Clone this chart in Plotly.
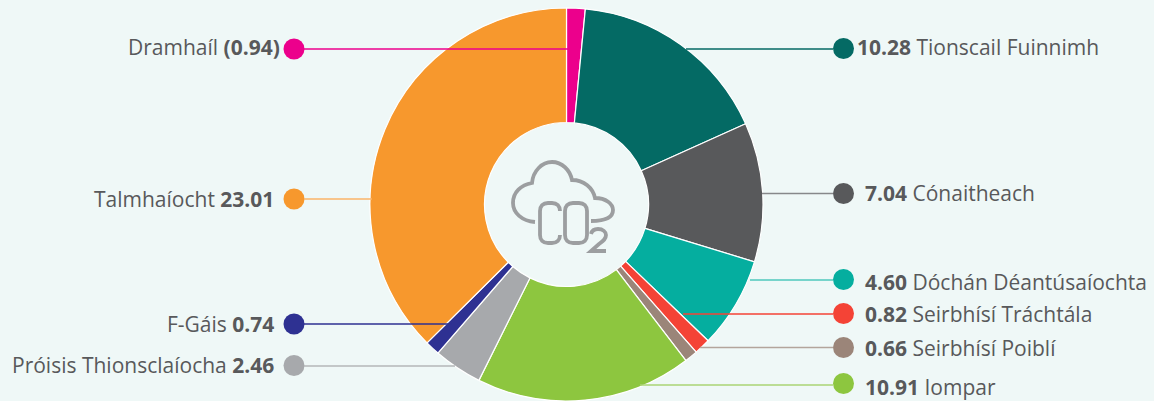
import plotly.graph_objects as go

# --- data ---
names = ["Dramhaíl", "Tionscail Fuinnimh", "Cónaitheach", "Dóchán Déantúsaíochta",
         "Seirbhísí Tráchtála", "Seirbhísí Poiblí", "Iompar",
         "Próisis Thionsclaíocha", "F-Gáis", "Talmhaíocht"]
values = [0.94, 10.28, 7.04, 4.60, 0.82, 0.66, 10.91, 2.46, 0.74, 23.01]
value_text = ["(0.94)", "10.28", "7.04", "4.60", "0.82", "0.66", "10.91", "2.46", "0.74", "23.01"]
colors = ["#EC008C", "#046A64", "#58595B", "#05AE9F", "#F44336",
          "#9B8579", "#8DC63F", "#A7A9AC", "#2E3192", "#F7982D"]
line_colors = ["#EC008C", "#046A64", "#87888A", "#4FC8BC", "#F44336",
               "#B3A59C", "#AAD574", "#B5B7B9", "#2E3192", "#FBB568"]

# --- layout positions (pixels) ---
W, H = 1154, 401
BG = "#EFF8F7"
TXT = "#58595B"
side = ["L", "R", "R", "R", "R", "R", "R", "L", "L", "L"]
dot_x = [294, 843.5, 843.5, 843.5, 843.5, 843.5, 843.5, 294, 294, 294]
dot_y = [49, 48.5, 193.5, 279.5, 313.5, 347.5, 383.5, 365.5, 324, 199]
line_y = [49, 49, 193.5, 280, 314, 347.5, 385, 366, 324, 199]
line_start = [304, 833, 833, 833, 833, 833, 833, 304, 304, 304]
line_end = [574, 686, 762, 750, 683, 700, 640, 455, 452, 372]
text_y = [47, 46.5, 193, 281.5, 313.5, 347.5, 387, 365, 323.5, 198.5]
text_x = [280, 857, 865, 865, 865, 865, 865, 274, 274, 274]

cx, cy, r = 566.5, 204.5, 196.5
hole_ratio = 82 / 196.5

fig = go.Figure()

fig.add_trace(go.Pie(
    values=values, labels=names, sort=False, direction="clockwise", rotation=0,
    hole=hole_ratio, textinfo="none", hoverinfo="label+value",
    marker=dict(colors=colors, line=dict(color="#FFFFFF", width=1.2)),
    domain=dict(x=[(cx - r) / W, (cx + r) / W], y=[(H - cy - r) / H, (H - cy + r) / H]),
    showlegend=False,
))

fig.add_trace(go.Scatter(
    x=dot_x, y=dot_y, mode="markers",
    marker=dict(size=21, color=colors, line=dict(width=0)),
    hoverinfo="skip", showlegend=False,
))

shapes = []
for i in range(len(names)):
    shapes.append(dict(type="line", xref="x", yref="y", layer="above",
                       x0=line_start[i], x1=line_end[i], y0=line_y[i], y1=line_y[i],
                       line=dict(color=line_colors[i], width=1.4)))

# CO2 icon
ICON = "#9C9EA0"
icon_paths = [
    # cloud
    "M 535 222 C 522 221 513 213 513 203 C 513 192 521 185 532 183 "
    "C 533 171 542 162 552 162 C 562 162 570 170 572 180 "
    "C 584 180 593 188 595 198 C 606 198 613 204 613 210 "
    "C 613 217 606 221 591 221",
    # C
    "M 560 211 C 560 206 557 203 552 203 L 548 203 C 543 203 540 206 540 211 "
    "L 540 235 C 540 240 543 243 548 243 L 552 243 C 557 243 560 240 560 235",
    # O
    "M 573 203 L 579 203 C 584 203 587 206 587 211 L 587 235 C 587 240 584 243 579 243 "
    "L 573 243 C 568 243 565 240 565 235 L 565 211 C 565 206 568 203 573 203 Z",
    # 2
    "M 591 234 C 592 230 595 229 598 229 C 603 229 606 232 606 235 "
    "C 606 239 603 241 599 244 L 591 251 L 606 251",
]
for p in icon_paths:
    shapes.append(dict(type="path", path=p, xref="x", yref="y", layer="above",
                       line=dict(color=ICON, width=3.8), fillcolor="rgba(0,0,0,0)"))

annotations = []
for i in range(len(names)):
    if side[i] == "L":
        t = f"{names[i]} <b>{value_text[i]}</b>"
        anchor = "right"
    else:
        t = f"<b>{value_text[i]}</b> {names[i]}"
        anchor = "left"
    annotations.append(dict(x=text_x[i], y=text_y[i], xref="x", yref="y", text=t,
                            showarrow=False, xanchor=anchor, yanchor="middle",
                            xshift=0, borderpad=0, borderwidth=0,
                            font=dict(family="Open Sans", size=21, color=TXT)))

fig.update_layout(
    width=W, height=H, margin=dict(l=0, r=0, t=0, b=0),
    paper_bgcolor=BG, plot_bgcolor=BG,
    xaxis=dict(range=[0, W], visible=False, fixedrange=True),
    yaxis=dict(range=[H, 0], visible=False, fixedrange=True),
    shapes=shapes, annotations=annotations,
)

page_css = (
    "document.documentElement.style.background='%s';"
    "document.documentElement.style.overflow='hidden';"
    "document.body.style.margin='0';document.body.style.overflow='hidden';" % BG
)
fig.write_html("out.html", config=dict(displayModeBar=False), post_script=page_css)
